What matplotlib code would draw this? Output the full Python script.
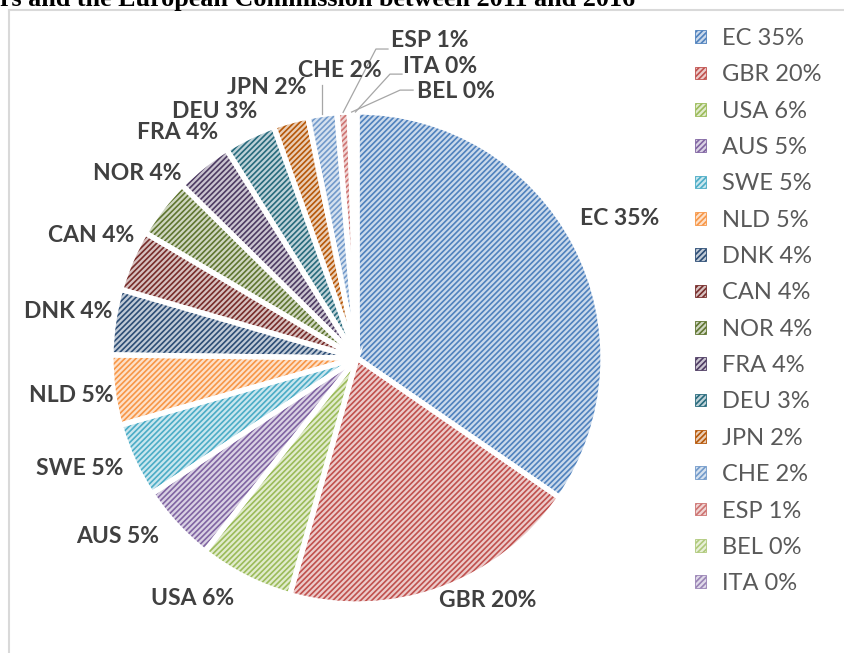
import numpy as np
import matplotlib
matplotlib.use("Agg")
import matplotlib.pyplot as plt
from matplotlib.lines import Line2D
from matplotlib import colors as mcolors

countries = ["EC", "GBR", "USA", "AUS", "SWE", "NLD", "DNK", "CAN",
             "NOR", "FRA", "DEU", "JPN", "CHE", "ESP", "BEL", "ITA"]
shares = [34.6, 19.8, 6.2, 5.1, 4.9, 4.6, 4.3, 4.0,
          3.9, 3.7, 3.4, 2.3, 1.9, 0.8, 0.3, 0.2]
pct_text = ["35%", "20%", "6%", "5%", "5%", "5%", "4%", "4%",
            "4%", "4%", "3%", "2%", "2%", "1%", "0%", "0%"]
colors = ["#4F81BD", "#C0504D", "#9BBB59", "#8064A2", "#4BACC6", "#F79646",
          "#2C4D75", "#772C2A", "#5F7530", "#4D3B62", "#276A7C", "#B65708",
          "#729ACA", "#CD7371", "#AFC97A", "#9983B5"]

# label centres, in pie radii from the centre
label_xy = [(1.069, 0.569), (0.533, -0.984), (-0.667, -0.976), (-0.972, -0.724),
            (-1.126, -0.451), (-1.163, -0.154), (-1.175, 0.187), (-1.081, 0.496),
            (-0.894, 0.752), (-0.728, 0.915), (-0.577, 1.004), (-0.366, 1.098),
            (-0.069, 1.167), (0.297, 1.289), (0.402, 1.085), (0.337, 1.183)]
# leader lines for the small slices (index -> (elbow, end))
leaders = {12: ((None, 1.11), None),
           13: ((0.077, 1.256), (0.126, 1.256)),
           14: ((0.175, 1.089), (0.228, 1.089)),
           15: ((0.134, 1.154), (0.183, 1.154))}

plt.rcParams["hatch.linewidth"] = 1.2

W, H = 845, 653
fig = plt.figure(figsize=(W / 100, H / 100), dpi=100)
cx, cy, r = 357, 358, 246
ax = fig.add_axes([(cx - r) / W, (H - cy - r) / H, 2 * r / W, 2 * r / H])


def light(c, k=0.3):
    rgb = np.array(mcolors.to_rgb(c))
    return tuple(rgb * k + (1 - k))


wedges, _ = ax.pie(shares, startangle=90, counterclock=False, radius=1)
for w, c in zip(wedges, colors):
    w.set_facecolor(light(c))
    w.set_edgecolor(c)
    w.set_hatch("//////")
    w.set_linewidth(0.6)

# white separators
ax.pie(shares, startangle=90, counterclock=False, radius=1,
       colors=["none"] * len(shares),
       wedgeprops=dict(edgecolor="white", linewidth=3.8))
ax.set_xlim(-1, 1)
ax.set_ylim(-1, 1)
ax.axis("off")

for i, (w, c, p) in enumerate(zip(wedges, countries, pct_text)):
    x, y = label_xy[i]
    ax.text(x, y, f"{c} {p}", ha="center", va="center", fontsize=16.5,
            fontweight="bold", color="#404040", family="Lato")
    if i in leaders:
        mid = np.deg2rad((w.theta1 + w.theta2) / 2)
        sx, sy = np.cos(mid), np.sin(mid)
        elbow, end = leaders[i]
        ex = sx if elbow[0] is None else elbow[0]
        xs, ys = [sx, ex], [sy, elbow[1]]
        if end is not None:
            xs.append(end[0])
            ys.append(end[1])
        ax.add_line(Line2D(xs, ys, color="#a6a6a6", lw=0.9, clip_on=False))

leg_labels = [f"{c} {p}" for c, p in zip(countries, pct_text)]
fig.legend(wedges, leg_labels, loc="upper left",
           bbox_to_anchor=(695 / W, 1 - 28 / H), frameon=False,
           prop={"family": "Lato", "size": 17}, labelcolor="#595959",
           handlelength=0.45, handleheight=0.45, handletextpad=0.68,
           labelspacing=0.65, borderpad=0, borderaxespad=0)

# chart frame (partly outside the picture)
fig.add_artist(Line2D([9 / W, 9 / W], [0, 1 - 10 / H], transform=fig.transFigure,
                      color="#d9d9d9", lw=1.5))
fig.add_artist(Line2D([9 / W, 1], [1 - 10 / H, 1 - 10 / H], transform=fig.transFigure,
                      color="#d9d9d9", lw=1.5))

fig.text(0, 1 - 6 / H, "rs and the European Commission between 2011 and 2016",
         family="Liberation Serif", fontweight="bold", fontsize=18.8, va="baseline")

fig.savefig("out.png", dpi=100)
